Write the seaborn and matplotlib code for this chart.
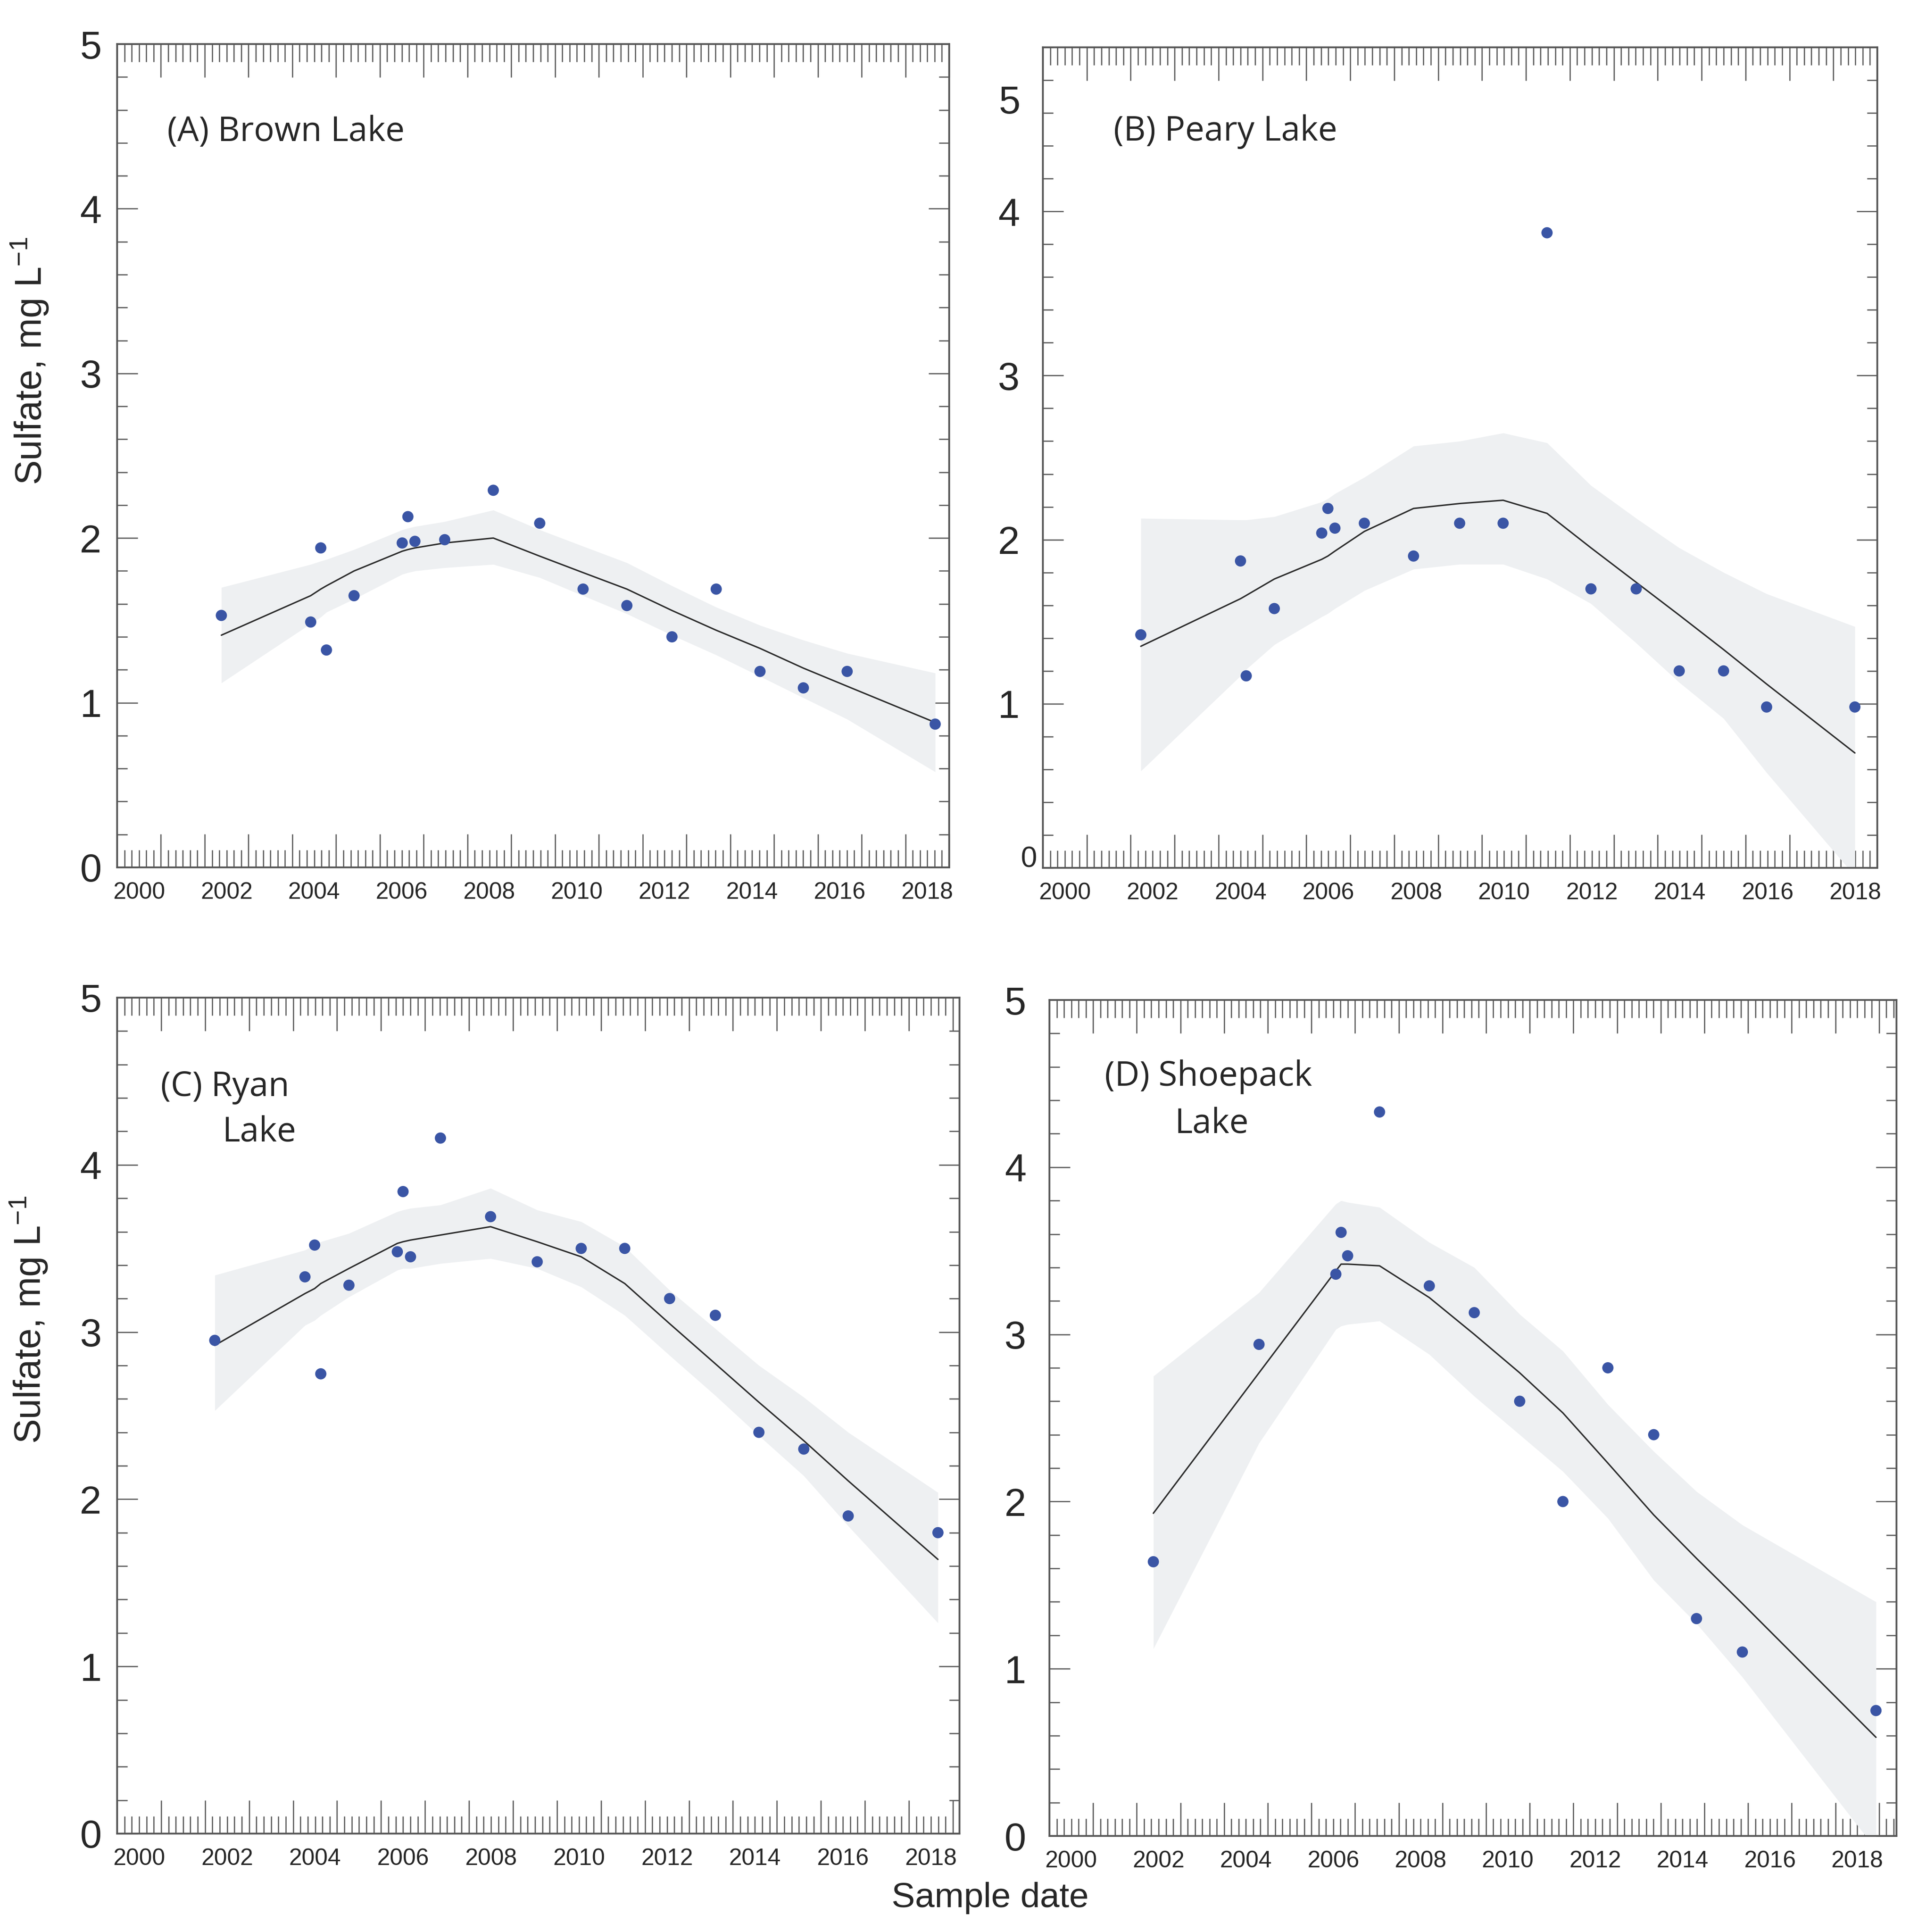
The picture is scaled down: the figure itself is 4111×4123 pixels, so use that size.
import matplotlib
matplotlib.use("Agg")
import matplotlib.pyplot as plt
import matplotlib.transforms as mtransforms
from matplotlib.ticker import MultipleLocator
import pandas as pd
import seaborn as sns

sns.set_style("ticks")
plt.rcParams['font.family'] = ['Liberation Sans', 'DejaVu Sans']
plt.rcParams['mathtext.default'] = 'regular'

# --- data (decimal years, mg/L) ---
brown_date = [2002.38, 2004.42, 2004.65, 2004.78, 2005.41, 2006.51, 2006.64, 2006.80, 2007.48, 2008.59,
              2009.65, 2010.64, 2011.64, 2012.67, 2013.68, 2014.68, 2015.67, 2016.67, 2018.68]
brown_sulfate = [1.53, 1.49, 1.94, 1.32, 1.65, 1.97, 2.13, 1.98, 1.99, 2.29,
                 2.09, 1.69, 1.59, 1.40, 1.69, 1.19, 1.09, 1.19, 0.87]
brown_fit = [1.41, 1.65, 1.69, 1.71, 1.80, 1.92, 1.93, 1.94, 1.97, 2.00,
             1.89, 1.79, 1.69, 1.56, 1.44, 1.33, 1.21, 1.10, 0.88]
brown_upper = [1.70, 1.84, 1.86, 1.87, 1.93, 2.05, 2.06, 2.07, 2.10, 2.17,
               2.05, 1.95, 1.85, 1.71, 1.58, 1.47, 1.38, 1.30, 1.18]
brown_lower = [1.12, 1.48, 1.52, 1.55, 1.63, 1.78, 1.79, 1.80, 1.82, 1.84,
               1.76, 1.65, 1.54, 1.41, 1.29, 1.16, 1.03, 0.90, 0.58]

peary_date = [2002.23, 2004.50, 2004.63, 2005.27, 2006.35, 2006.49, 2006.65, 2007.32, 2008.44,
              2009.49, 2010.48, 2011.48, 2012.48, 2013.51, 2014.49, 2015.50, 2016.48, 2018.49]
peary_sulfate = [1.42, 1.87, 1.17, 1.58, 2.04, 2.19, 2.07, 2.10, 1.90,
                 2.10, 2.10, 3.87, 1.70, 1.70, 1.20, 1.20, 0.98, 0.98]
peary_fit = [1.35, 1.64, 1.66, 1.76, 1.88, 1.90, 1.93, 2.05, 2.19,
             2.22, 2.24, 2.16, 1.95, 1.74, 1.54, 1.33, 1.12, 0.70]
peary_upper = [2.13, 2.12, 2.12, 2.14, 2.23, 2.25, 2.28, 2.38, 2.57,
               2.60, 2.65, 2.59, 2.33, 2.13, 1.95, 1.80, 1.67, 1.47]
peary_lower = [0.59, 1.17, 1.21, 1.36, 1.53, 1.55, 1.58, 1.69, 1.82,
               1.85, 1.85, 1.76, 1.61, 1.37, 1.13, 0.91, 0.58, -0.05]

ryan_date = [2002.22, 2004.27, 2004.49, 2004.63, 2005.27, 2006.37, 2006.50, 2006.67, 2007.35, 2008.49,
             2009.55, 2010.55, 2011.54, 2012.56, 2013.60, 2014.59, 2015.61, 2016.62, 2018.66]
ryan_sulfate = [2.95, 3.33, 3.52, 2.75, 3.28, 3.48, 3.84, 3.45, 4.16, 3.69,
                3.42, 3.50, 3.50, 3.20, 3.10, 2.40, 2.30, 1.90, 1.80]
ryan_fit = [2.92, 3.23, 3.26, 3.29, 3.38, 3.53, 3.54, 3.55, 3.58, 3.63,
            3.54, 3.45, 3.29, 3.05, 2.81, 2.58, 2.35, 2.11, 1.64]
ryan_upper = [3.34, 3.49, 3.52, 3.54, 3.59, 3.72, 3.73, 3.74, 3.76, 3.86,
              3.73, 3.66, 3.51, 3.25, 3.02, 2.80, 2.61, 2.40, 2.04]
ryan_lower = [2.53, 3.04, 3.07, 3.10, 3.21, 3.37, 3.38, 3.38, 3.41, 3.44,
              3.38, 3.27, 3.10, 2.86, 2.62, 2.38, 2.14, 1.84, 1.26]

shoepack_date = [2002.38, 2004.80, 2006.56, 2006.68, 2006.83, 2007.56, 2008.70, 2009.73,
                 2010.77, 2011.76, 2012.79, 2013.84, 2014.82, 2015.87, 2018.93]
shoepack_sulfate = [1.64, 2.94, 3.36, 3.61, 3.47, 4.33, 3.29, 3.13,
                    2.60, 2.00, 2.80, 2.40, 1.30, 1.10, 0.75]
shoepack_fit = [1.93, 2.77, 3.38, 3.42, 3.42, 3.41, 3.22, 3.00,
                2.77, 2.53, 2.23, 1.92, 1.66, 1.39, 0.59]
shoepack_upper = [2.75, 3.25, 3.78, 3.80, 3.79, 3.76, 3.55, 3.40,
                  3.12, 2.90, 2.58, 2.30, 2.06, 1.86, 1.40]
shoepack_lower = [1.12, 2.35, 3.03, 3.05, 3.06, 3.08, 2.88, 2.63,
                  2.40, 2.18, 1.90, 1.53, 1.27, 0.95, -0.08]

year_labels = [str(y) for y in range(2000, 2019, 2)]
label_pos = [y + 0.5 for y in range(2000, 2019, 2)]
y_ticks = [0, 1, 2, 3, 4, 5]

point_color = '#3a55a5'
band_color = '#eef0f2'
line_color = '#2b2b2b'
axis_color = '#555555'

W, H = 4111, 4123
fig = plt.figure(figsize=(W / 300, H / 300), dpi=300)


def rect(left, right, top, bottom):
    return [left / W, 1 - bottom / H, (right - left) / W, (bottom - top) / H]


def draw_panel(ax, date, sulfate, fit, upper, lower, xmax, ypad, ylabel=False):
    df = pd.DataFrame({'date': date, 'sulfate': sulfate, 'fit': fit,
                       'upper': upper, 'lower': lower})
    ax.fill_between(df['date'], df['lower'], df['upper'], color=band_color, lw=0, zorder=1)
    sns.lineplot(data=df, x='date', y='fit', ax=ax, color=line_color, lw=0.75, zorder=2)
    sns.scatterplot(data=df, x='date', y='sulfate', ax=ax, color=point_color, s=33,
                    edgecolor='none', zorder=3)

    ax.set_xlim(2000, xmax)
    ax.set_ylim(0, 5)
    ax.xaxis.set_major_locator(MultipleLocator(1))
    ax.xaxis.set_minor_locator(MultipleLocator(1 / 6))
    ax.set_yticks(y_ticks)
    ax.yaxis.set_minor_locator(MultipleLocator(0.2))
    ax.tick_params(axis='x', which='both', direction='in', top=True, bottom=True,
                   labelbottom=False, color=axis_color, width=0.6)
    ax.tick_params(axis='x', which='major', length=17)
    ax.tick_params(axis='x', which='minor', length=9)
    ax.tick_params(axis='y', which='both', direction='in', left=True, right=True,
                   color=axis_color, width=0.6, labelsize=20, pad=ypad)
    ax.tick_params(axis='y', which='major', length=10.5)
    ax.tick_params(axis='y', which='minor', length=5.3)
    for s in ax.spines.values():
        s.set_color(axis_color)
        s.set_linewidth(0.9)
    ax.set_xlabel('')
    if ylabel:
        ax.set_ylabel('Sulfate, mg L$^{-1}$', fontsize=19)
        ax.yaxis.set_label_coords(-0.08, 0.615)
    else:
        ax.set_ylabel('')

    # year labels centred inside each year interval
    sec = ax.secondary_xaxis('bottom')
    sec.set_xticks(label_pos, labels=year_labels)
    sec.tick_params(length=0, pad=7.5, labelsize=12)
    for s in sec.spines.values():
        s.set_visible(False)


ax_a = fig.add_axes(rect(250, 2026, 94, 1851))
draw_panel(ax_a, brown_date, brown_sulfate, brown_fit, brown_upper, brown_lower, 2019.0, 8, ylabel=True)
ax_a.text(0.06, 0.893, '(A) Brown Lake', transform=ax_a.transAxes, fontsize=17.5,
          family='Open Sans', va='center', ha='left')

ax_b = fig.add_axes(rect(2226, 4007, 101, 1852))
draw_panel(ax_b, peary_date, peary_sulfate, peary_fit, peary_upper, peary_lower, 2019.0, 12)
ax_b.set_yticks([1, 2, 3, 4])
b_trans = mtransforms.blended_transform_factory(ax_b.transAxes, ax_b.transData)
ax_b.text(-0.027, 4.66, '5', transform=b_trans, fontsize=20, ha='right', va='center')
ax_b.text(-0.007, 0.05, '0', transform=b_trans, fontsize=15, ha='right', va='center')
ax_b.text(0.085, 0.897, '(B) Peary Lake', transform=ax_b.transAxes, fontsize=17.5,
          family='Open Sans', va='center', ha='left')

ax_c = fig.add_axes(rect(250, 2048, 2129, 3913))
draw_panel(ax_c, ryan_date, ryan_sulfate, ryan_fit, ryan_upper, ryan_lower, 2019.15, 8, ylabel=True)
ax_c.text(0.052, 0.893, '(C) Ryan', transform=ax_c.transAxes, fontsize=17.5,
          family='Open Sans', va='center', ha='left')
ax_c.text(0.125, 0.839, 'Lake', transform=ax_c.transAxes, fontsize=17.5,
          family='Open Sans', va='center', ha='left')

ax_d = fig.add_axes(rect(2240, 4048, 2134, 3918))
draw_panel(ax_d, shoepack_date, shoepack_sulfate, shoepack_fit, shoepack_upper, shoepack_lower, 2019.4, 12)
ax_d.text(0.065, 0.908, '(D) Shoepack', transform=ax_d.transAxes, fontsize=17.5,
          family='Open Sans', va='center', ha='left')
ax_d.text(0.148, 0.852, 'Lake', transform=ax_d.transAxes, fontsize=17.5,
          family='Open Sans', va='center', ha='left')

fig.text(0.514, 0.0177, 'Sample date', fontsize=18, ha='center', va='center')

fig.savefig('out.png', dpi=300)
